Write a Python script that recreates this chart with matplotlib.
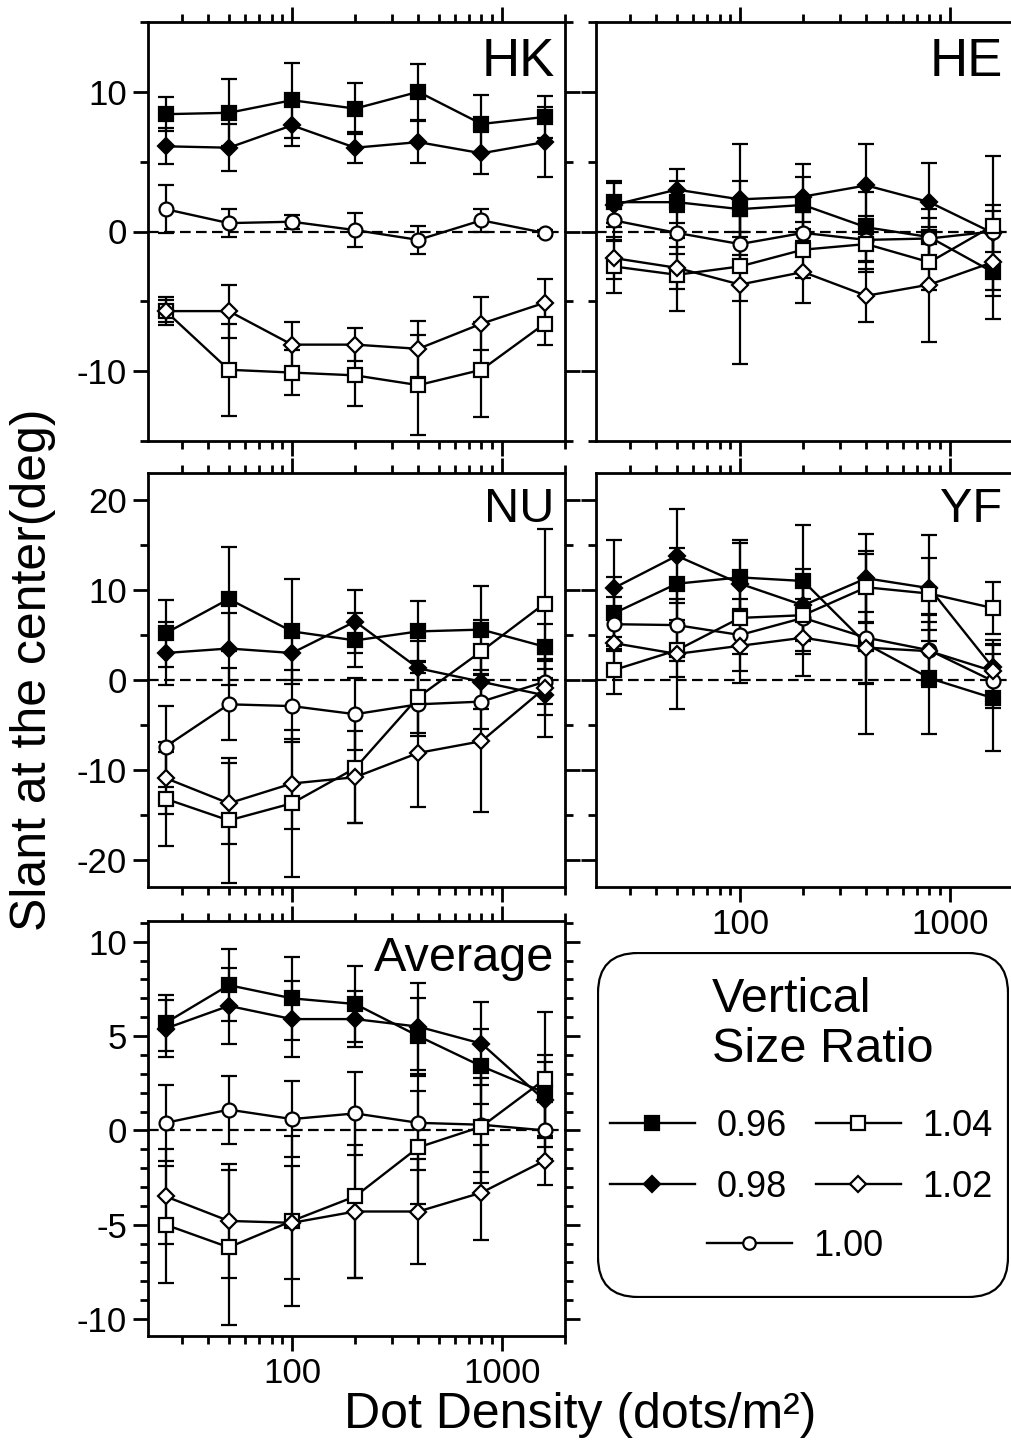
import matplotlib
matplotlib.use('Agg')
import matplotlib.pyplot as plt
from matplotlib.patches import FancyBboxPatch
from matplotlib.ticker import MultipleLocator, FuncFormatter

plt.rcParams['font.family'] = ['Liberation Sans', 'DejaVu Sans']
plt.rcParams['axes.unicode_minus'] = False

# dot density (dots/m^2)
density = [25, 50, 100, 200, 400, 800, 1600]
# vertical size ratios, order of rows in the arrays below
ratios = ['0.96', '0.98', '1.00', '1.04', '1.02']

# slant at the center (deg) and error bars, one row per ratio
hk_slant = [[8.4, 8.5, 9.4, 8.8, 10.0, 7.7, 8.2],
            [6.1, 6.0, 7.6, 6.0, 6.4, 5.6, 6.4],
            [1.6, 0.6, 0.7, 0.1, -0.6, 0.8, -0.1],
            [-5.7, -9.9, -10.1, -10.3, -11.0, -9.9, -6.6],
            [-5.7, -5.7, -8.1, -8.1, -8.4, -6.6, -5.1]]
hk_err = [[1.2, 2.4, 2.7, 1.8, 2.0, 2.1, 1.5],
          [1.3, 1.7, 1.5, 1.1, 1.5, 1.5, 2.5],
          [1.7, 1.0, 0.5, 1.2, 1.0, 0.8, 0.2],
          [1.0, 3.3, 1.6, 2.2, 3.6, 3.4, 1.5],
          [0.8, 1.9, 1.6, 1.2, 2.0, 1.9, 1.7]]

he_slant = [[2.1, 2.1, 1.6, 1.9, 0.3, -0.4, -2.9],
            [1.9, 3.0, 2.3, 2.5, 3.3, 2.1, -0.1],
            [0.8, -0.1, -0.9, -0.1, -0.6, -0.5, 0.0],
            [-2.5, -3.1, -2.5, -1.3, -0.9, -2.2, 0.4],
            [-1.9, -2.6, -3.8, -2.9, -4.6, -3.8, -2.2]]
he_err = [[1.5, 1.5, 2.0, 2.0, 2.5, 2.0, 3.4],
          [1.6, 1.5, 4.0, 2.3, 3.0, 2.8, 2.0],
          [1.5, 1.5, 2.0, 1.5, 1.5, 1.5, 1.5],
          [1.9, 2.6, 2.5, 2.0, 2.0, 2.0, 5.0],
          [1.5, 1.5, 5.7, 2.2, 1.9, 4.1, 2.0]]

nu_slant = [[5.2, 9.0, 5.4, 4.4, 5.4, 5.6, 3.7],
            [3.0, 3.5, 3.0, 6.5, 1.3, -0.2, -1.7],
            [-7.4, -2.7, -2.9, -3.8, -2.7, -2.4, -0.2],
            [-13.2, -15.6, -13.7, -9.8, -1.9, 3.2, 8.5],
            [-10.9, -13.7, -11.5, -10.8, -8.1, -6.8, -0.9]]
nu_err = [[3.7, 5.8, 5.8, 3.0, 3.4, 4.9, 2.5],
          [3.5, 4.0, 3.0, 3.5, 3.0, 3.0, 4.6],
          [4.5, 4.0, 4.0, 4.0, 3.5, 3.0, 2.5],
          [5.2, 6.9, 8.2, 6.1, 4.0, 3.5, 8.3],
          [4.0, 4.5, 5.0, 5.1, 6.0, 7.9, 3.0]]

yf_slant = [[7.4, 10.7, 11.4, 11.0, 4.0, 0.2, -2.0],
            [10.2, 13.8, 10.7, 8.3, 11.3, 10.2, 1.4],
            [6.2, 6.1, 5.0, 6.9, 4.7, 3.3, -0.1],
            [1.1, 3.3, 6.9, 7.2, 10.3, 9.6, 8.0],
            [4.1, 2.9, 3.8, 4.7, 3.6, 3.2, 1.0]]
yf_err = [[4.0, 4.0, 4.2, 6.2, 10.0, 6.2, 5.9],
          [5.4, 5.2, 4.5, 4.0, 4.9, 5.9, 3.0],
          [3.0, 4.0, 4.0, 4.0, 5.0, 4.0, 3.0],
          [2.7, 3.0, 4.0, 4.0, 4.0, 4.0, 2.9],
          [3.0, 6.1, 4.1, 4.3, 4.0, 4.0, 3.0]]

avg_slant = [[5.7, 7.7, 7.0, 6.7, 5.0, 3.4, 2.0],
             [5.4, 6.6, 5.9, 5.9, 5.5, 4.6, 1.6],
             [0.4, 1.1, 0.6, 0.9, 0.4, 0.3, 0.0],
             [-5.0, -6.2, -4.8, -3.5, -0.9, 0.2, 2.7],
             [-3.5, -4.8, -4.9, -4.3, -4.3, -3.3, -1.6]]
avg_err = [[1.5, 1.9, 2.2, 2.0, 2.0, 2.0, 2.0],
           [1.5, 2.0, 2.0, 1.5, 2.3, 2.2, 2.0],
           [2.0, 1.8, 2.0, 2.2, 2.5, 2.5, 1.5],
           [3.1, 4.1, 4.5, 4.3, 3.0, 3.0, 3.6],
           [2.5, 3.0, 3.0, 3.5, 2.8, 2.5, 1.3]]

# marker, face colour, size for each ratio
styles = {
    '0.96': ('s', 'black', 10.5),
    '0.98': ('D', 'black', 8.5),
    '1.00': ('o', 'white', 10),
    '1.04': ('s', 'white', 10.5),
    '1.02': ('D', 'white', 8.5),
}

W, H = 1011, 1444
fig = plt.figure(figsize=(W / 100, H / 100), dpi=100)


def px_axes(left, top, right, bottom):
    return fig.add_axes([left / W, 1 - bottom / H, (right - left) / W, (bottom - top) / H])


def draw_panel(ax, slant, err, ylim, major, minor, label, label_size,
               show_x=False, show_y=True, right_side=True):
    lines = {}
    for r, vals, e in zip(ratios, slant, err):
        ax.errorbar(density, vals, yerr=e, fmt='none', ecolor='black',
                    elinewidth=1.6, capsize=6, capthick=1.6, zorder=2)
    for r, vals in zip(ratios, slant):
        m, fc, ms = styles[r]
        ln, = ax.plot(density, vals, color='black', lw=1.7, marker=m, ms=ms,
                      mfc=fc, mec='black', mew=1.6, zorder=3)
        lines[r] = ln
    ax.axhline(0, color='black', lw=1.6, ls=(0, (4.8, 2.4)), zorder=1)
    ax.set_xscale('log')
    ax.set_xlim(20.6, 2000)
    ax.set_ylim(*ylim)
    ax.yaxis.set_major_locator(MultipleLocator(major))
    ax.yaxis.set_minor_locator(MultipleLocator(minor))
    ax.xaxis.set_major_formatter(FuncFormatter(lambda v, p: f'{v:.0f}'))
    ax.tick_params(which='both', direction='out', top=True, right=right_side,
                   width=2, labelsize=25, pad=4,
                   labelbottom=show_x, labelleft=show_y)
    ax.tick_params(which='major', length=11)
    ax.tick_params(which='minor', length=6)
    for s in ax.spines.values():
        s.set_linewidth(2)
    if not right_side:
        ax.spines['right'].set_visible(False)
    ax.text(0.975, 0.965, label, transform=ax.transAxes, ha='right', va='top',
            fontsize=label_size, zorder=5)
    return lines


ax_hk = px_axes(148, 22, 565, 441)
ax_he = px_axes(596, 22, 1013, 441)
ax_nu = px_axes(148, 473, 565, 887)
ax_yf = px_axes(596, 473, 1013, 887)
ax_av = px_axes(148, 921, 565, 1336)

lines = draw_panel(ax_hk, hk_slant, hk_err, (-15, 15), 10, 5, 'HK', 38)
draw_panel(ax_he, he_slant, he_err, (-15, 15), 10, 5, 'HE', 38,
           show_y=False, right_side=False)
draw_panel(ax_nu, nu_slant, nu_err, (-23, 23), 10, 5, 'NU', 35)
draw_panel(ax_yf, yf_slant, yf_err, (-23, 23), 10, 5, 'YF', 35,
           show_x=True, show_y=False, right_side=False)
draw_panel(ax_av, avg_slant, avg_err, (-10.9, 11.1), 5, 1, 'Average', 35, show_x=True)

fig.text(33 / W, 1 - 670 / H, 'Slant at the center(deg)', rotation=90,
         ha='center', va='center', fontsize=36)
fig.text(580 / W, 1 - 1415 / H, 'Dot Density (dots/m\u00b2)',
         ha='center', va='center', fontsize=36)

# legend box
ax_leg = px_axes(597, 952, 1009, 1298)
ax_leg.set_xlim(0, 412)
ax_leg.set_ylim(0, 346)
ax_leg.axis('off')
ax_leg.add_patch(FancyBboxPatch((1, 1), 410, 344, boxstyle='round,pad=0,rounding_size=40',
                                fc='none', ec='black', lw=1.6))
fig.text(712 / W, 1 - 1012 / H, 'Vertical', fontsize=35, ha='left', va='baseline')
fig.text(712 / W, 1 - 1062 / H, 'Size Ratio', fontsize=35, ha='left', va='baseline')

leg_kw = dict(frameon=False, fontsize=26, handlelength=2.35, handletextpad=0.6,
              borderpad=0, borderaxespad=0, markerscale=0.9, loc='upper left')
order = ['0.96', '0.98', '1.04', '1.02']
fig.legend([lines[r] for r in order], order, ncol=2, columnspacing=0.8,
           labelspacing=0.72, bbox_to_anchor=(610 / W, 1 - 1109 / H), **leg_kw)
fig.legend([lines['1.00']], ['1.00'], bbox_to_anchor=(707 / W, 1 - 1229 / H), **leg_kw)

fig.savefig('out.png', dpi=100)
